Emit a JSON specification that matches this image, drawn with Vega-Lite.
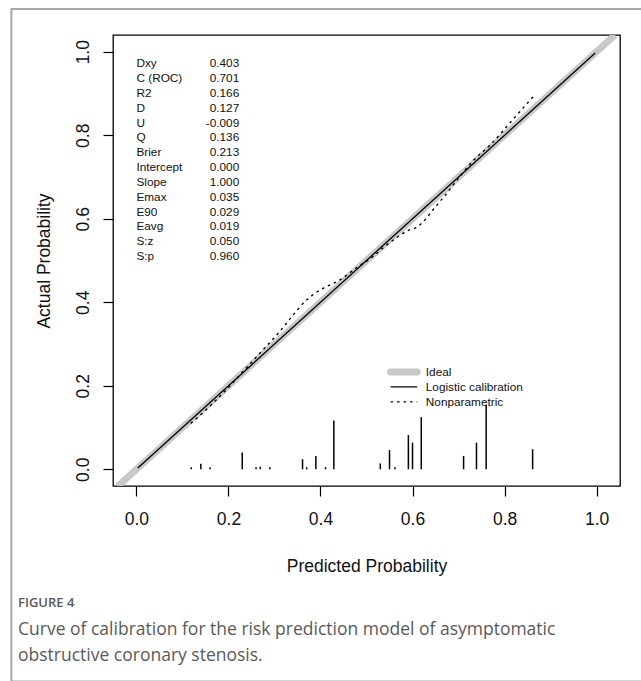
{
  "$schema": "https://vega.github.io/schema/vega-lite/v6.json",
  "autosize": {"type": "none"},
  "width": 507,
  "height": 451,
  "padding": {"left": 113, "top": 35, "right": 21, "bottom": 195},
  "background": "white",
  "config": {
    "view": {"stroke": "#000000", "strokeWidth": 1.3},
    "font": "Liberation Sans",
    "axis": {"grid": false, "domain": false, "tickColor": "#000000", "tickWidth": 1.2, "tickSize": 10, "labelColor": "#111111", "titleColor": "#111111", "labelFont": "Liberation Sans", "titleFont": "Liberation Sans", "labelFontSize": 17.5, "titleFontSize": 17.5, "titleFontWeight": "normal"}
  },
  "title": {
    "text": "FIGURE 4",
    "subtitle": ["Curve of calibration for the risk prediction model of asymptomatic", "obstructive coronary stenosis."],
    "orient": "bottom",
    "anchor": "start",
    "frame": "group",
    "dx": -95,
    "offset": -85,
    "font": "Open Sans",
    "fontSize": 13,
    "fontWeight": 600,
    "color": "#5a5a5a",
    "subtitleFont": "Open Sans",
    "subtitleFontSize": 17.5,
    "subtitleColor": "#5a5a5a",
    "subtitleLineHeight": 26,
    "subtitlePadding": 11
  },
  "datasets": {
    "curves": [
      {"curve": "Ideal", "p": -0.04, "a": -0.04},
      {"curve": "Ideal", "p": 1.04, "a": 1.04},
      {"curve": "Logistic calibration", "p": 0.003, "a": 0.003},
      {"curve": "Logistic calibration", "p": 0.997, "a": 0.997},
      {"curve": "Nonparametric", "p": 0.118, "a": 0.110},
      {"curve": "Nonparametric", "p": 0.14, "a": 0.131},
      {"curve": "Nonparametric", "p": 0.17, "a": 0.162},
      {"curve": "Nonparametric", "p": 0.20, "a": 0.196},
      {"curve": "Nonparametric", "p": 0.245, "a": 0.250},
      {"curve": "Nonparametric", "p": 0.28, "a": 0.292},
      {"curve": "Nonparametric", "p": 0.31, "a": 0.328},
      {"curve": "Nonparametric", "p": 0.335, "a": 0.362},
      {"curve": "Nonparametric", "p": 0.365, "a": 0.400},
      {"curve": "Nonparametric", "p": 0.39, "a": 0.423},
      {"curve": "Nonparametric", "p": 0.41, "a": 0.436},
      {"curve": "Nonparametric", "p": 0.44, "a": 0.452},
      {"curve": "Nonparametric", "p": 0.48, "a": 0.484},
      {"curve": "Nonparametric", "p": 0.51, "a": 0.506},
      {"curve": "Nonparametric", "p": 0.54, "a": 0.534},
      {"curve": "Nonparametric", "p": 0.57, "a": 0.558},
      {"curve": "Nonparametric", "p": 0.59, "a": 0.572},
      {"curve": "Nonparametric", "p": 0.61, "a": 0.580},
      {"curve": "Nonparametric", "p": 0.625, "a": 0.595},
      {"curve": "Nonparametric", "p": 0.645, "a": 0.622},
      {"curve": "Nonparametric", "p": 0.67, "a": 0.655},
      {"curve": "Nonparametric", "p": 0.70, "a": 0.697},
      {"curve": "Nonparametric", "p": 0.73, "a": 0.737},
      {"curve": "Nonparametric", "p": 0.77, "a": 0.778},
      {"curve": "Nonparametric", "p": 0.82, "a": 0.840},
      {"curve": "Nonparametric", "p": 0.862, "a": 0.892}
    ],
    "spikes": [
      {"x": 0.119, "h": 0.005}, {"x": 0.140, "h": 0.013}, {"x": 0.160, "h": 0.005},
      {"x": 0.230, "h": 0.040}, {"x": 0.260, "h": 0.005}, {"x": 0.269, "h": 0.006},
      {"x": 0.290, "h": 0.005}, {"x": 0.361, "h": 0.024}, {"x": 0.370, "h": 0.005},
      {"x": 0.390, "h": 0.032}, {"x": 0.411, "h": 0.005}, {"x": 0.429, "h": 0.117},
      {"x": 0.530, "h": 0.014}, {"x": 0.550, "h": 0.046}, {"x": 0.562, "h": 0.005},
      {"x": 0.591, "h": 0.082}, {"x": 0.600, "h": 0.064}, {"x": 0.619, "h": 0.125},
      {"x": 0.711, "h": 0.032}, {"x": 0.739, "h": 0.064}, {"x": 0.760, "h": 0.154},
      {"x": 0.861, "h": 0.048}
    ],
    "stats": [
      {"i": 1, "label": "Dxy", "value": "0.403"},
      {"i": 2, "label": "C (ROC)", "value": "0.701"},
      {"i": 3, "label": "R2", "value": "0.166"},
      {"i": 4, "label": "D", "value": "0.127"},
      {"i": 5, "label": "U", "value": "-0.009"},
      {"i": 6, "label": "Q", "value": "0.136"},
      {"i": 7, "label": "Brier", "value": "0.213"},
      {"i": 8, "label": "Intercept", "value": "0.000"},
      {"i": 9, "label": "Slope", "value": "1.000"},
      {"i": 10, "label": "Emax", "value": "0.035"},
      {"i": 11, "label": "E90", "value": "0.029"},
      {"i": 12, "label": "Eavg", "value": "0.019"},
      {"i": 13, "label": "S:z", "value": "0.050"},
      {"i": 14, "label": "S:p", "value": "0.960"}
    ]
  },
  "layer": [
    {
      "layer": [
        {
          "data": {"name": "curves"},
          "transform": [{"filter": "datum.curve === 'Ideal'"}],
          "mark": {"type": "line", "clip": true, "strokeWidth": 7},
          "encoding": {
            "x": {"field": "p", "type": "quantitative", "scale": {"domain": [-0.04, 1.04], "nice": false, "zero": false},
                  "axis": {"values": [0, 0.2, 0.4, 0.6, 0.8, 1.0], "format": ".1f", "labelPadding": 14, "labelBaseline": "top", "title": "Predicted Probability", "titleX": 253.5, "titleY": 85, "titleBaseline": "alphabetic", "titleAnchor": "middle"}},
            "y": {"field": "a", "type": "quantitative", "scale": {"domain": [-0.04, 1.04], "nice": false, "zero": false},
                  "axis": {"values": [0, 0.2, 0.4, 0.6, 0.8, 1.0], "format": ".1f", "labelAngle": -90, "labelAlign": "center", "labelBaseline": "alphabetic", "labelPadding": 15, "title": "Actual Probability", "titleX": -64, "titleY": 225.5, "titleAngle": -90, "titleAlign": "center", "titleBaseline": "alphabetic", "titleAnchor": "middle"}},
            "color": {"field": "curve", "type": "nominal", "scale": {"domain": ["Ideal", "Logistic calibration", "Nonparametric"], "range": ["#c8c8c8", "#000000", "#000000"]},
                      "legend": {"title": null, "orient": "none", "legendX": 285, "legendY": 331, "labelFontSize": 11.8, "labelFont": "Liberation Sans", "labelColor": "#111111", "symbolType": "stroke", "symbolSize": 708, "labelOffset": 16, "rowPadding": 2, "padding": 0,
                                 "encode": {"symbols": {"update": {"strokeWidth": {"signal": "datum.value === 'Ideal' ? 7 : 1.3"}, "strokeCap": {"signal": "datum.value === 'Ideal' ? 'round' : 'butt'"}, "strokeJoin": {"value": "round"}, "strokeDash": {"signal": "datum.value === 'Nonparametric' ? [2.5, 4] : [1, 0]"}}}}}}
          }
        },
        {
          "data": {"name": "curves"},
          "transform": [{"filter": "datum.curve === 'Logistic calibration'"}],
          "mark": {"type": "line", "clip": true, "strokeWidth": 1.3},
          "encoding": {
            "x": {"field": "p", "type": "quantitative"},
            "y": {"field": "a", "type": "quantitative"},
            "color": {"field": "curve", "type": "nominal"}
          }
        },
        {
          "data": {"name": "curves"},
          "transform": [{"filter": "datum.curve === 'Nonparametric'"}],
          "mark": {"type": "line", "clip": true, "interpolate": "monotone", "strokeWidth": 1.4, "strokeDash": [2.5, 4]},
          "encoding": {
            "x": {"field": "p", "type": "quantitative"},
            "y": {"field": "a", "type": "quantitative"},
            "color": {"field": "curve", "type": "nominal"}
          }
        },
        {
          "data": {"name": "spikes"},
          "mark": {"type": "bar", "color": "#000000", "width": 1.5, "stroke": null},
          "encoding": {
            "x": {"field": "x", "type": "quantitative"},
            "y": {"field": "h", "type": "quantitative", "stack": null}
          }
        },
        {
          "data": {"values": [{"frame": "page"}]},
          "mark": {"type": "rect", "filled": false, "fill": "transparent", "stroke": "#a8a8a8", "strokeWidth": 2},
          "encoding": {
            "x": {"datum": -0.2717, "type": "quantitative"},
            "x2": {"datum": 1.3},
            "y": {"datum": 1.1023, "type": "quantitative"},
            "y2": {"datum": -0.508}
          }
        }
      ]
    },
    {
      "data": {"name": "stats"},
      "layer": [
        {
          "mark": {"type": "text", "align": "left", "baseline": "middle", "fontSize": 11.8, "font": "Liberation Sans", "color": "#111111"},
          "encoding": {
            "x": {"datum": 0, "type": "quantitative"},
            "y": {"field": "i", "type": "quantitative", "scale": {"domain": [-0.911, 29.52], "reverse": true, "nice": false, "zero": false}, "axis": null},
            "text": {"field": "label"}
          }
        },
        {
          "mark": {"type": "text", "align": "right", "baseline": "middle", "fontSize": 11.8, "font": "Liberation Sans", "color": "#111111"},
          "encoding": {
            "x": {"datum": 0.2234, "type": "quantitative"},
            "y": {"field": "i", "type": "quantitative", "axis": null},
            "text": {"field": "value"}
          }
        }
      ]
    }
  ],
  "resolve": {"scale": {"y": "independent"}}
}
